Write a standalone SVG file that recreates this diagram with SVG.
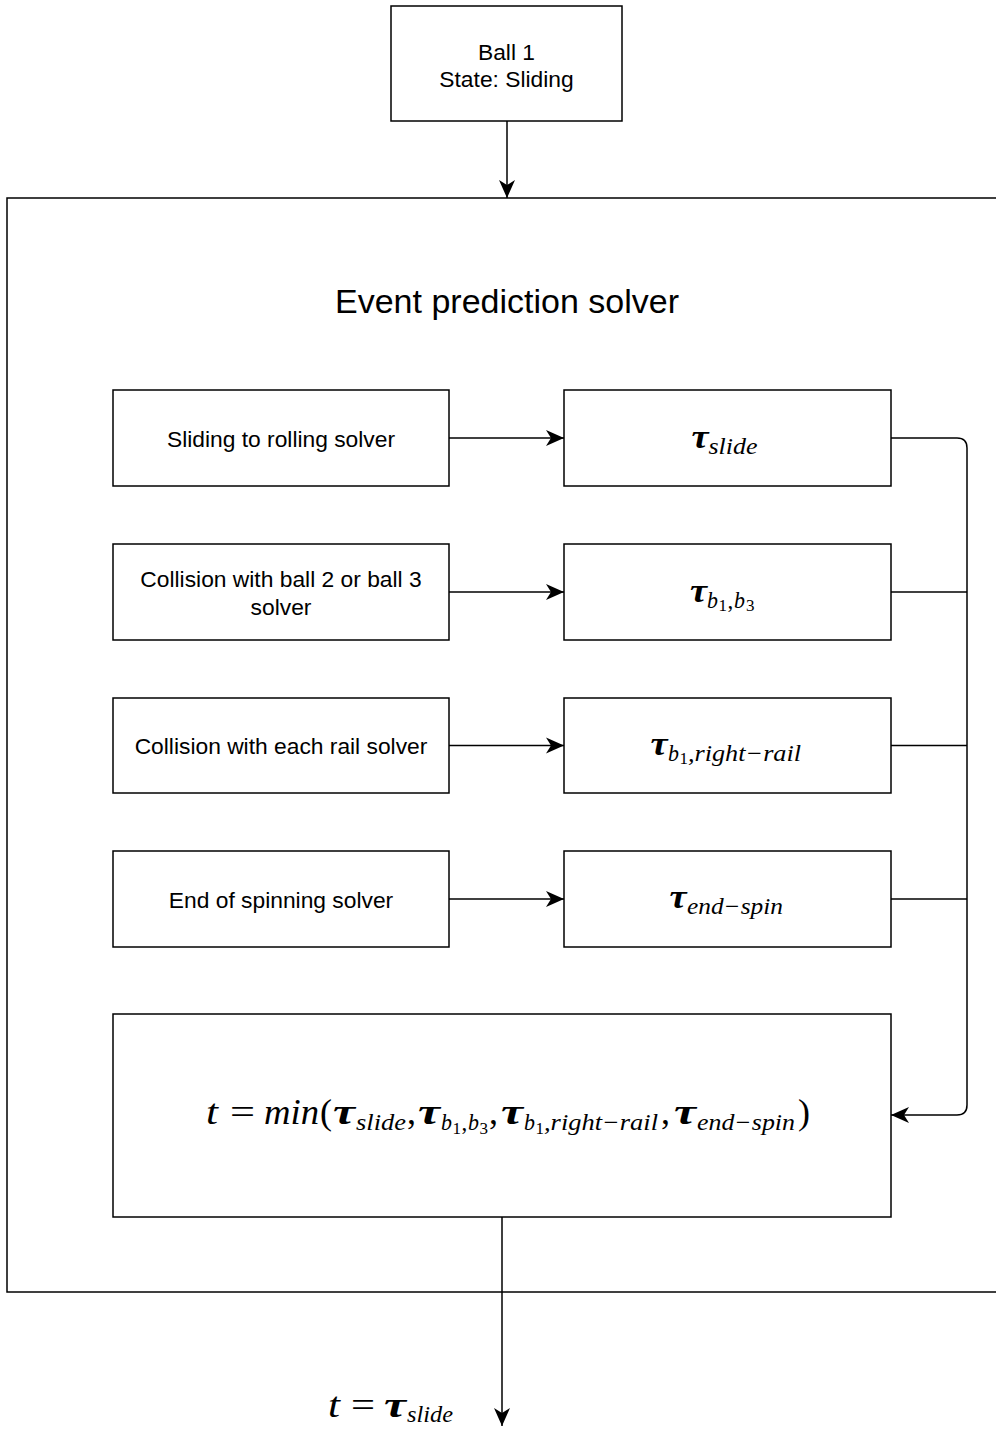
<svg xmlns="http://www.w3.org/2000/svg" width="996" height="1432" viewBox="0 0 996 1432">
<style>
.box{fill:#fff;stroke:#000;stroke-width:1.5}
.ln{fill:none;stroke:#000;stroke-width:1.5}
.lbl{font-family:"Liberation Sans",Arial,sans-serif;font-size:22.8px;fill:#000;text-anchor:middle}
.title{font-family:"Liberation Sans",Arial,sans-serif;font-size:34px;fill:#000;text-anchor:middle}
.m{font-family:"Liberation Serif","Times New Roman",serif;font-style:italic;fill:#000}
.tau{font-weight:bold;font-size:34px}
.taub{font-weight:bold;font-size:36px}
.up{font-style:normal}
.F{font-size:36px}
.S{font-size:23px}
.SS{font-size:17px}
</style>
<defs>
<marker id="arr" markerWidth="18" markerHeight="18" refX="18" refY="9" orient="auto" markerUnits="userSpaceOnUse" viewBox="0 0 18 18">
<path d="M18,9 L0,1 L5,9 L0,17 Z" fill="#000"/>
</marker>
</defs>

<g id="container">
<rect class="box" x="7" y="198" width="1000" height="1094"/>
<text class="title" x="507" y="313">Event prediction solver</text>
</g>

<g id="ball1">
<rect class="box" x="391" y="6" width="231" height="115"/>
<text class="lbl" x="506.5" y="60">Ball 1</text>
<text class="lbl" x="506.5" y="87">State: Sliding</text>
</g>

<g id="solver-slide">
<rect class="box" x="113" y="390" width="336" height="96"/>
<text class="lbl" x="281" y="447">Sliding to rolling solver</text>
</g>
<g id="solver-ball">
<rect class="box" x="113" y="544" width="336" height="96"/>
<text class="lbl" x="281" y="587">Collision with ball 2 or ball 3</text>
<text class="lbl" x="281" y="615">solver</text>
</g>
<g id="solver-rail">
<rect class="box" x="113" y="698" width="336" height="95"/>
<text class="lbl" x="281" y="754">Collision with each rail solver</text>
</g>
<g id="solver-spin">
<rect class="box" x="113" y="851" width="336" height="96"/>
<text class="lbl" x="281" y="908">End of spinning solver</text>
</g>

<g id="tau-slide">
<rect class="box" x="564" y="390" width="327" height="96"/>
<text class="m tau" x="691.5" y="448" textLength="17" lengthAdjust="spacingAndGlyphs">τ</text>
<text class="m S" x="708.5" y="454" textLength="49" lengthAdjust="spacingAndGlyphs">slide</text>
</g>
<g id="tau-ball">
<rect class="box" x="564" y="544" width="327" height="96"/>
<text class="m tau" x="690" y="602" textLength="17" lengthAdjust="spacingAndGlyphs">τ</text>
<text class="m S" x="707" y="608" textLength="11" lengthAdjust="spacingAndGlyphs">b</text>
<text class="m SS up" x="718.5" y="611">1</text>
<text class="m S up" x="727.5" y="608">,</text>
<text class="m S" x="734" y="608" textLength="11" lengthAdjust="spacingAndGlyphs">b</text>
<text class="m SS up" x="746" y="611">3</text>
</g>
<g id="tau-rail">
<rect class="box" x="564" y="698" width="327" height="95"/>
<text class="m tau" x="650.5" y="755" textLength="17" lengthAdjust="spacingAndGlyphs">τ</text>
<text class="m S" x="668" y="761" textLength="11" lengthAdjust="spacingAndGlyphs">b</text>
<text class="m SS up" x="679.5" y="764">1</text>
<text class="m S" x="688" y="761" textLength="113" lengthAdjust="spacingAndGlyphs">,right−rail</text>
</g>
<g id="tau-spin">
<rect class="box" x="564" y="851" width="327" height="96"/>
<text class="m tau" x="669.5" y="908" textLength="17" lengthAdjust="spacingAndGlyphs">τ</text>
<text class="m S" x="687" y="914" textLength="96" lengthAdjust="spacingAndGlyphs">end−spin</text>
</g>

<g id="min-box">
<rect class="box" x="113" y="1014" width="778" height="203"/>
<text class="m F" x="206" y="1124" textLength="12" lengthAdjust="spacingAndGlyphs">t</text>
<text class="m F up" x="230" y="1124" textLength="25" lengthAdjust="spacingAndGlyphs">=</text>
<text class="m F" x="264" y="1124" textLength="55" lengthAdjust="spacingAndGlyphs">min</text>
<text class="m F up" x="320" y="1124">(</text>
<text class="m taub" x="333" y="1124" textLength="22" lengthAdjust="spacingAndGlyphs">τ</text>
<text class="m S" x="356" y="1130" textLength="50" lengthAdjust="spacingAndGlyphs">slide</text>
<text class="m F up" x="407" y="1124">,</text>
<text class="m taub" x="418" y="1124" textLength="22" lengthAdjust="spacingAndGlyphs">τ</text>
<text class="m S" x="441" y="1130" textLength="11" lengthAdjust="spacingAndGlyphs">b</text>
<text class="m SS up" x="452.5" y="1134">1</text>
<text class="m S up" x="461.5" y="1130">,</text>
<text class="m S" x="468" y="1130" textLength="11" lengthAdjust="spacingAndGlyphs">b</text>
<text class="m SS up" x="479.5" y="1134">3</text>
<text class="m F up" x="489" y="1124">,</text>
<text class="m taub" x="501" y="1124" textLength="22" lengthAdjust="spacingAndGlyphs">τ</text>
<text class="m S" x="524" y="1130" textLength="11" lengthAdjust="spacingAndGlyphs">b</text>
<text class="m SS up" x="535.5" y="1134">1</text>
<text class="m S" x="544" y="1130" textLength="114" lengthAdjust="spacingAndGlyphs">,right−rail</text>
<text class="m F up" x="661" y="1124">,</text>
<text class="m taub" x="674" y="1124" textLength="22" lengthAdjust="spacingAndGlyphs">τ</text>
<text class="m S" x="697" y="1130" textLength="98" lengthAdjust="spacingAndGlyphs">end−spin</text>
<text class="m F up" x="798" y="1124">)</text>
</g>

<g id="result">
<text class="m F" x="328" y="1417" textLength="12" lengthAdjust="spacingAndGlyphs">t</text>
<text class="m F up" x="351" y="1417" textLength="24" lengthAdjust="spacingAndGlyphs">=</text>
<text class="m taub" x="384" y="1417" textLength="22" lengthAdjust="spacingAndGlyphs">τ</text>
<text class="m S" x="407" y="1422" textLength="46" lengthAdjust="spacingAndGlyphs">slide</text>
</g>

<g id="connectors">
<path class="ln" d="M507,121 V198" marker-end="url(#arr)"/>
<path class="ln" d="M449,438 H564" marker-end="url(#arr)"/>
<path class="ln" d="M449,592 H564" marker-end="url(#arr)"/>
<path class="ln" d="M449,745.5 H564" marker-end="url(#arr)"/>
<path class="ln" d="M449,899 H564" marker-end="url(#arr)"/>
<path class="ln" d="M891,438 H957 Q967,438 967,448 V1105 Q967,1115 957,1115 H891" marker-end="url(#arr)"/>
<path class="ln" d="M891,592 H967"/>
<path class="ln" d="M891,745.5 H967"/>
<path class="ln" d="M891,899 H967"/>
<path class="ln" d="M502,1217 V1426" marker-end="url(#arr)"/>
</g>
</svg>
